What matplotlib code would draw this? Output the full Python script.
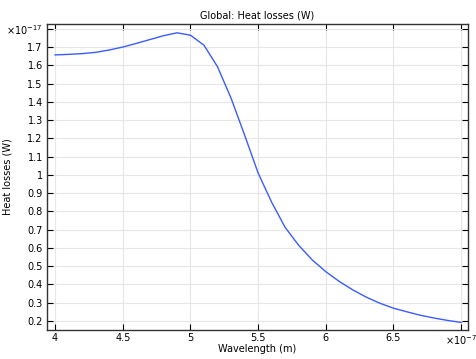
import matplotlib
matplotlib.use("Agg")
import matplotlib.pyplot as plt
import numpy as np

# wavelength in units of 1e-7 m, heat losses in units of 1e-17 W
wavelength = [4.0, 4.1, 4.2, 4.3, 4.4, 4.5, 4.6, 4.7, 4.8, 4.9, 5.0,
              5.1, 5.2, 5.3, 5.4, 5.5, 5.6, 5.7, 5.8, 5.9, 6.0,
              6.1, 6.2, 6.3, 6.4, 6.5, 6.6, 6.7, 6.8, 6.9, 7.0]
heat_losses = [1.657, 1.660, 1.664, 1.671, 1.684, 1.700, 1.720, 1.741, 1.762, 1.778, 1.765,
               1.710, 1.592, 1.420, 1.218, 1.010, 0.850, 0.712, 0.614, 0.534, 0.470,
               0.416, 0.370, 0.330, 0.297, 0.270, 0.250, 0.231, 0.216, 0.203, 0.192]

x_ticks = [4, 4.5, 5, 5.5, 6, 6.5, 7]
x_labels = ['4', '4.5', '5', '5.5', '6', '6.5', r'$\times$10$^{-7}$']
y_ticks = [0.2, 0.3, 0.4, 0.5, 0.6, 0.7, 0.8, 0.9, 1, 1.1, 1.2, 1.3, 1.4, 1.5, 1.6, 1.7, 1.8]
y_labels = ['0.2', '0.3', '0.4', '0.5', '0.6', '0.7', '0.8', '0.9', '1', '1.1', '1.2',
            '1.3', '1.4', '1.5', '1.6', '1.7', r'$\times$10$^{-17}$']

plt.rc('font', size=7)
fig = plt.figure(figsize=(4.77, 3.59), dpi=100)
ax = fig.add_axes([0.0985, 0.081, 0.8825, 0.852])

ax.plot(wavelength, heat_losses, color='#3a5cff', linewidth=1)

ax.set_xlim(3.94, 7.05)
ax.set_ylim(0.151, 1.826)
ax.set_xticks(x_ticks)
ax.set_xticklabels(x_labels)
ax.set_yticks(y_ticks)
ax.set_yticklabels(y_labels)
ax.grid(True, color='#e6e6e6', linewidth=0.8)
ax.set_axisbelow(True)
ax.tick_params(direction='in', top=True, right=True, length=4, width=0.8, pad=3)
ax.tick_params(axis='x', pad=2.5)
for s in ax.spines.values():
    s.set_color('#333333')
    s.set_linewidth(1)

ax.set_title('Global: Heat losses (W)', fontsize=7, pad=4)
ax.set_xlabel('Wavelength (m)', va='center')
ax.xaxis.set_label_coords(0.5, -0.063)
ax.set_ylabel('Heat losses (W)', va='center')
ax.yaxis.set_label_coords(-0.094, 0.5)

fig.savefig('out.png', dpi=100)
